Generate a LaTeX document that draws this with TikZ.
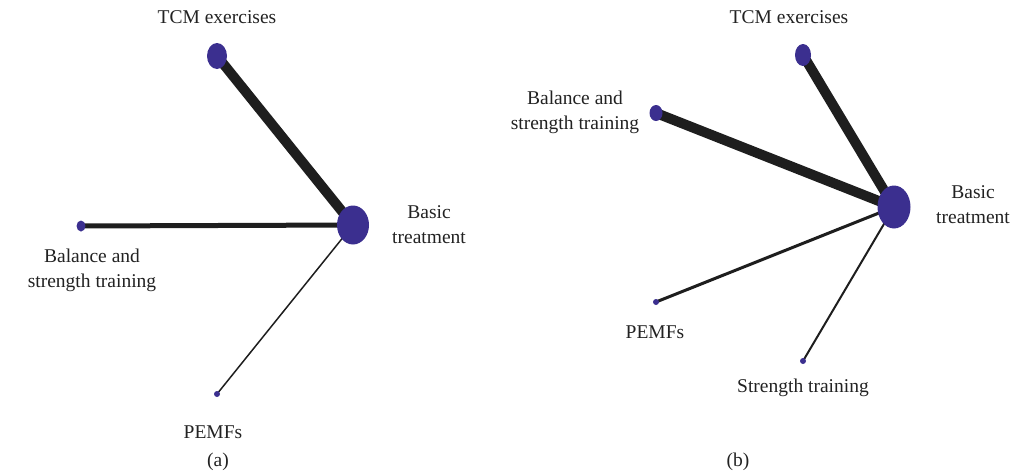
\documentclass[tikz,border=0pt]{standalone}
\usepackage{fontspec}
\setmainfont{Liberation Serif}
\usetikzlibrary{shapes.geometric}
\definecolor{nodeblue}{HTML}{3B2F8F}
\definecolor{edgeblack}{HTML}{1E1E1E}
\definecolor{txt}{HTML}{222222}
\begin{document}
\begin{tikzpicture}[x=1pt,y=-1pt,
  vert/.style={ellipse,fill=nodeblue,draw=none,inner sep=0pt,outer sep=0pt},
  edge/.style={draw=edgeblack},
  lbl/.style={text=txt,align=center,inner sep=0pt,font=\fontsize{19.5}{25}\selectfont}]
\useasboundingbox (0,0) rectangle (1012,474);
% panel (a)
\coordinate (aT) at (217,56);
\coordinate (aB) at (353,225);
\coordinate (aS) at (81,226);
\coordinate (aP) at (217,394);
\draw[edge,line width=10] (aT) -- (aB);
\draw[edge,line width=5] (aS) -- (aB);
\draw[edge,line width=1.5] (aP) -- (aB);
\node[vert,minimum width=20,minimum height=26] (naT) at (aT) {};
\node[vert,minimum width=32,minimum height=39] (naB) at (aB) {};
\node[vert,minimum width=9,minimum height=11] (naS) at (aS) {};
\node[vert,minimum width=6,minimum height=6] (naP) at (aP) {};
\node[lbl] (laT) at (217,17) {TCM exercises};
\node[lbl] (laB) at (429,225) {Basic\\treatment};
\node[lbl] (laS) at (92,270) {Balance and\\strength training};
\node[lbl] (laP) at (213,432) {PEMFs};
\node[lbl] (la) at (218,462) {(a)};
% panel (b)
\coordinate (bT) at (803,55);
\coordinate (bS) at (656,113);
\coordinate (bB) at (894,207);
\coordinate (bP) at (656,302);
\coordinate (bR) at (803,361);
\draw[edge,line width=10] (bT) -- (bB);
\draw[edge,line width=10] (bS) -- (bB);
\draw[edge,line width=3] (bP) -- (bB);
\draw[edge,line width=2] (bR) -- (bB);
\node[vert,minimum width=16,minimum height=22] (nbT) at (bT) {};
\node[vert,minimum width=13,minimum height=16] (nbS) at (bS) {};
\node[vert,minimum width=33,minimum height=43] (nbB) at (bB) {};
\node[vert,minimum width=6,minimum height=6] (nbP) at (bP) {};
\node[vert,minimum width=6,minimum height=6] (nbR) at (bR) {};
\node[lbl] (lbT) at (789,17) {TCM exercises};
\node[lbl] (lbS) at (575,112) {Balance and\\strength training};
\node[lbl] (lbB) at (973,205) {Basic\\treatment};
\node[lbl] (lbP) at (655,332) {PEMFs};
\node[lbl] (lbR) at (803,388) {Strength training};
\node[lbl] (lb) at (738,462) {(b)};
\end{tikzpicture}
\end{document}
